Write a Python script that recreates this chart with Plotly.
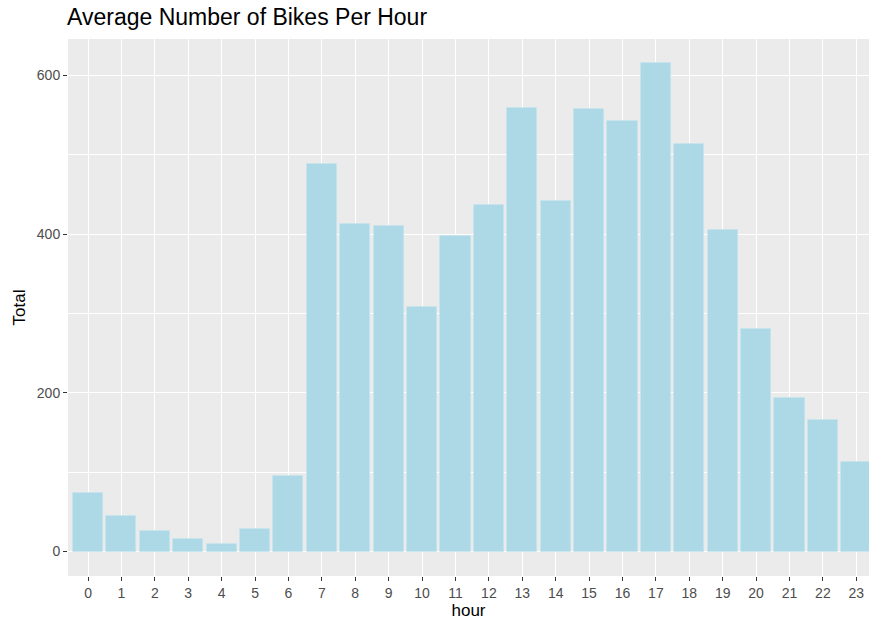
import plotly.graph_objects as go

hours = list(range(24))
totals = [74, 45, 26, 16, 10, 29, 95, 488, 413, 410, 308, 398,
          437, 559, 442, 558, 542, 615, 513, 405, 281, 193, 166, 113]
y_ticks = [0, 200, 400, 600]

FONT = "Liberation Sans, Arial, sans-serif"

fig = go.Figure()
fig.add_trace(go.Bar(
    x=hours, y=totals, width=0.9,
    marker=dict(color="#ADD8E6", line=dict(color="#c4e3ed", width=0.8)),
))

fig.update_layout(
    width=869, height=622,
    margin=dict(l=68, r=0, t=39, b=46, autoexpand=False),
    paper_bgcolor="white",
    plot_bgcolor="#EBEBEB",
    showlegend=False,
    title=dict(text="Average Number of Bikes Per Hour", x=67/869, xanchor="left",
               y=1 - 17/622, yanchor="middle",
               font=dict(family=FONT, size=23, color="black")),
    font=dict(family=FONT),
    bargap=0,
)
fig.update_xaxes(
    range=[-0.6, 23.38], tickmode="array", tickvals=hours, ticktext=[str(h) for h in hours],
    showgrid=True, gridcolor="white", gridwidth=1.4, zeroline=False,
    ticks="outside", ticklen=4, tickcolor="#333333", tickwidth=1.2,
    tickfont=dict(size=14, color="#4D4D4D"),
    title=dict(text="hour", font=dict(size=17, color="black"), standoff=4),
    showline=False, automargin=False,
)
fig.update_yaxes(
    range=[-30.75, 645.75], tickmode="array", tickvals=y_ticks,
    showgrid=True, gridcolor="white", gridwidth=1.4, zeroline=False,
    minor=dict(tickmode="array", tickvals=[100, 300, 500], showgrid=True,
               gridcolor="white", gridwidth=0.6, ticks=""),
    ticks="outside", ticklen=4, tickcolor="#333333", tickwidth=1.2,
    tickfont=dict(size=14, color="#4D4D4D"),
    title=dict(text="Total", font=dict(size=17, color="black"), standoff=6),
    showline=False, automargin=False,
)

fig.write_html("out.html", config={"displayModeBar": False},
               post_script="document.body.style.margin='0';document.body.style.overflow='hidden';")
